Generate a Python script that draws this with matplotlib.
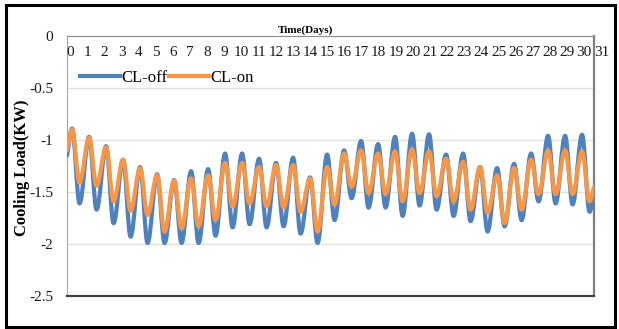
import numpy as np
import matplotlib
matplotlib.use("Agg")
import matplotlib.pyplot as plt
from matplotlib.path import Path
from matplotlib.patches import PathPatch, Rectangle
from matplotlib.lines import Line2D
import matplotlib.transforms as mtransforms

# ---------------- data ----------------
days = list(range(31))                      # day index 0..30
day_labels = [str(i) for i in range(32)]    # top axis labels 0..31
peak_time = 0.30                            # fraction of day where load is least negative
trough_time = 0.74                          # fraction of day where load is most negative

off_start, off_end = -1.15, -1.52
on_start, on_end = -1.10, -1.45

off_peak = [-0.89, -0.97, -1.06, -1.19, -1.26, -1.33, -1.385, -1.30, -1.28, -1.13,
            -1.13, -1.18, -1.22, -1.17, -1.36, -1.14, -1.10, -1.01, -1.04, -0.97,
            -0.94, -0.945, -1.14, -1.13, -1.26, -1.27, -1.23, -1.13, -0.96, -0.96, -0.95]
off_trough = [-1.61, -1.67, -1.80, -1.93, -1.99, -1.99, -1.99, -1.99, -1.92, -1.84,
              -1.81, -1.84, -1.83, -1.90, -1.99, -1.77, -1.56, -1.65, -1.65, -1.73,
              -1.63, -1.67, -1.73, -1.78, -1.88, -1.83, -1.77, -1.59, -1.61, -1.62, -1.69]
on_peak = [-0.90, -0.98, -1.07, -1.19, -1.27, -1.34, -1.39, -1.37, -1.34, -1.22,
           -1.22, -1.26, -1.24, -1.24, -1.37, -1.26, -1.13, -1.10, -1.13, -1.11,
           -1.09, -1.11, -1.18, -1.21, -1.26, -1.34, -1.27, -1.19, -1.10, -1.10, -1.11]
on_trough = [-1.41, -1.44, -1.59, -1.68, -1.72, -1.88, -1.85, -1.83, -1.77, -1.64,
             -1.61, -1.64, -1.65, -1.69, -1.88, -1.62, -1.45, -1.51, -1.52, -1.59,
             -1.51, -1.54, -1.59, -1.67, -1.70, -1.80, -1.67, -1.52, -1.52, -1.52, -1.59]

y_ticks = [0, -0.5, -1, -1.5, -2, -2.5]
y_tick_labels = ["0", "-0.5", "-1", "-1.5", "-2", "-2.5"]
series_names = ["CL-off", "CL-on"]

# ---------------- style ----------------
W, H = 619, 329
SERIF = ["Liberation Serif", "DejaVu Serif"]
BLUE = "#4F81BD"
ORANGE = "#F79646"
FS = 11
FS_LEG = 12


def curve_path(start, end, peaks, troughs):
    """Smooth curve through daily extremes (horizontal tangents at extremes)."""
    pts = [(0.0, start)]
    for d, p, t in zip(days, peaks, troughs):
        pts.append((d + peak_time, p))
        pts.append((d + trough_time, t))
    pts.append((float(len(days)), end))
    verts = [pts[0]]
    codes = [Path.MOVETO]
    c = 0.3642
    n = len(pts)
    for i in range(n - 1):
        (x0, y0), (x1, y1) = pts[i], pts[i + 1]
        dx = x1 - x0
        if i == 0:
            p1 = (x0 + dx / 3, y0 + (y1 - y0) / 3)
        else:
            p1 = (x0 + c * dx, y0)
        if i == n - 2:
            p2 = (x1 - dx / 3, y1 - (y1 - y0) / 3)
        else:
            p2 = (x1 - c * dx, y1)
        verts += [p1, p2, (x1, y1)]
        codes += [Path.CURVE4] * 3
    return Path(verts, codes)


fig = plt.figure(figsize=(W / 100, H / 100), dpi=100)
fig.patch.set_facecolor("white")

L, R, T, B = 67, 594, 36, 296
ax = fig.add_axes([L / W, 1 - B / H, (R - L) / W, (B - T) / H])
ax.set_xlim(0, len(days))
ax.set_ylim(-2.5, 0)

# grid
for yv in y_ticks[1:-1]:
    ax.axhline(yv, color="#e4e1d8", lw=1.0, zorder=0)

# series
for (st, en, pk, tr, col, lw) in [(off_start, off_end, off_peak, off_trough, BLUE, 3.0),
                                  (on_start, on_end, on_peak, on_trough, ORANGE, 3.0)]:
    patch = PathPatch(curve_path(st, en, pk, tr), fill=False, edgecolor=col, lw=lw,
                      capstyle="round", joinstyle="round", transform=ax.transData, zorder=3)
    patch.set_clip_path(ax.patch)
    ax.add_patch(patch)

# y axis
ax.set_yticks(y_ticks)
ax.set_yticklabels(y_tick_labels, fontfamily=SERIF, fontsize=FS, color="#1a1a1a")
ax.tick_params(axis="y", length=0, pad=10)
ax.set_xticks([])

# top day labels inside the plot
trans = mtransforms.blended_transform_factory(ax.transData, ax.transAxes)
label_step = 1.008
for i, lab in enumerate(day_labels):
    ax.text(0.19 + i * label_step, 1 - (52 - T) / (B - T), lab, transform=trans,
            ha="center", va="center", fontfamily=SERIF, fontsize=FS, color="#1a1a1a",
            clip_on=False)

# spines
ax.spines["left"].set_color("#a6a6a6")
ax.spines["top"].set_color("#8c8c8c")
ax.spines["right"].set_color("#7f7f7f")
ax.spines["right"].set_linewidth(1.6)
ax.spines["bottom"].set_color("#404040")
ax.spines["bottom"].set_linewidth(1.6)

# legend
handles = [Line2D([], [], color=BLUE, lw=3.0), Line2D([], [], color=ORANGE, lw=3.0)]
ax.legend(handles, series_names, ncol=2, frameon=False, loc="center left",
          bbox_to_anchor=((80 - L) / (R - L), 1 - (78 - T) / (B - T)),
          borderaxespad=0, borderpad=0, handlelength=2.4, handletextpad=0.1,
          columnspacing=0.05, prop={"family": SERIF, "size": FS_LEG})

# titles
fig.text(305 / W, 1 - 30 / H, "Time(Days)", ha="center", va="center",
         fontfamily=SERIF, fontsize=8, fontweight="bold")
fig.text(22 / W, 1 - 168 / H, "Cooling Load(KW)", rotation=90, ha="center", va="center",
         fontfamily=SERIF, fontsize=12, fontweight="bold")

# outer frame
fig.patches.append(Rectangle((6 / W, 1 - 327 / H), (615 - 6) / W, (327 - 5) / H,
                             transform=fig.transFigure, fill=False, edgecolor="black",
                             lw=2.2, zorder=10))

fig.savefig("out.png", dpi=100, facecolor="white")
